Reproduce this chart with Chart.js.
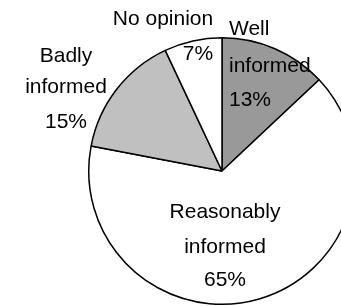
<!DOCTYPE html>
<html>
<head>
<meta charset="utf-8">
<script src="https://cdn.jsdelivr.net/npm/chart.js@4"></script>
<style>
  html, body { margin: 0; padding: 0; background: #fff; overflow: hidden; }
  #wrap { position: relative; width: 444px; height: 306px; }
</style>
</head>
<body>
<div id="wrap"><canvas id="pie"></canvas></div>
<script>
// Données
const labels = ['Well informed', 'Reasonably informed', 'Badly informed', 'No opinion'];
const values = [13, 65, 15, 7];
const colors = ['#999999', '#ffffff', '#c0c0c0', '#ffffff'];

// Texte des étiquettes (lignes) et position
const labelLines = [
  ['Well', 'informed', '13%'],
  ['Reasonably', 'informed', '65%'],
  ['Badly', 'informed', '15%'],
  ['No opinion', '7%']
];
const labelPos = [
  { x: 229, y: [35, 72, 106], align: 'left' },
  { x: 225, y: [218, 253, 286], align: 'center' },
  { x: 66,  y: [62, 93, 128], align: 'center' },
  { x: 163, y: [25, 60], align: 'center', xs: [163, 198] }
];

const sliceLabels = {
  id: 'sliceLabels',
  afterDatasetsDraw(chart) {
    const ctx = chart.ctx;
    ctx.save();
    ctx.fillStyle = '#000';
    ctx.font = '21px "Liberation Sans", Arial, sans-serif';
    ctx.textBaseline = 'alphabetic';
    labelLines.forEach((lines, i) => {
      const p = labelPos[i];
      ctx.textAlign = p.align;
      lines.forEach((t, j) => {
        const x = p.xs ? p.xs[j] : p.x;
        ctx.fillText(t, x, p.y[j]);
      });
    });
    ctx.restore();
  }
};

new Chart(document.getElementById('pie'), {
  type: 'pie',
  data: {
    labels,
    datasets: [{
      data: values,
      backgroundColor: colors,
      borderColor: '#000',
      borderWidth: 1.5,
    }],
  },
  options: {
    responsive: true,
    maintainAspectRatio: false,
    animation: false,
    layout: { padding: { top: 37, bottom: 1, left: 0, right: 0 } },
    plugins: {
      legend: { display: false },
      tooltip: { enabled: false },
    },
  },
  plugins: [sliceLabels],
});
</script>
</body>
</html>
